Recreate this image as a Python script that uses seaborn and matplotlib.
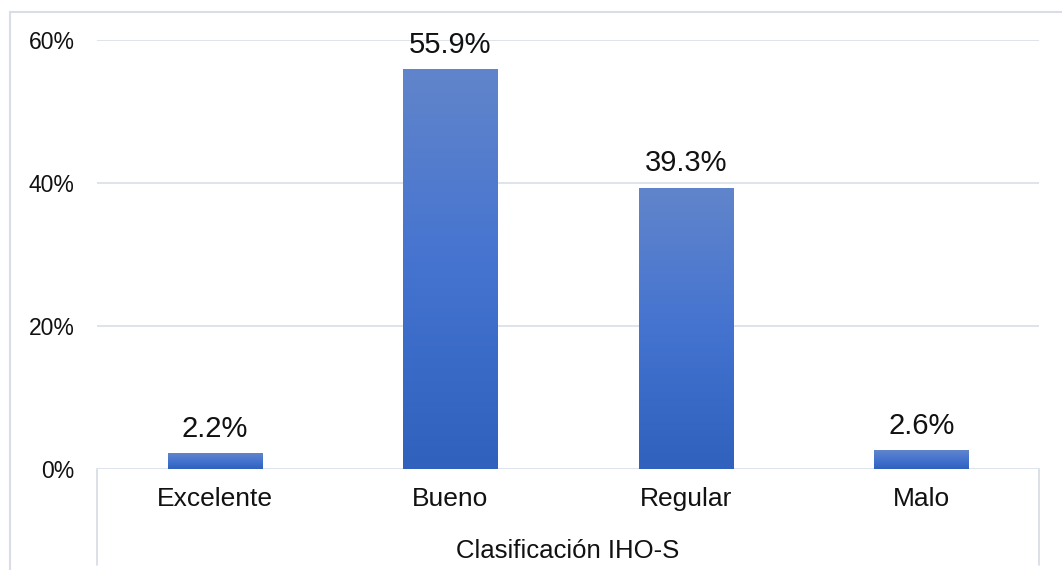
import numpy as np
import pandas as pd
import matplotlib
matplotlib.use("Agg")
import matplotlib.pyplot as plt
import seaborn as sns
from matplotlib.colors import LinearSegmentedColormap
from matplotlib.lines import Line2D

# Distribution of the IHO-S oral hygiene classification
categories = ["Excelente", "Bueno", "Regular", "Malo"]
percentages = [2.2, 55.9, 39.3, 2.6]
y_ticks = [0, 20, 40, 60]
y_tick_labels = ["0%", "20%", "40%", "60%"]
x_title = "Clasificación IHO-S"

sns.set_theme(style="white")
plt.rcParams["font.family"] = ["Liberation Sans", "DejaVu Sans"]

W, H = 1062, 570
fig = plt.figure(figsize=(W / 100, H / 100), dpi=100)
fig.patch.set_facecolor("white")
ax = fig.add_axes([97 / W, 1 - 469 / H, (1039 - 97) / W, (469 - 40) / H])

df = pd.DataFrame({"cat": categories, "pct": percentages})
sns.barplot(data=df, x="cat", y="pct", ax=ax, width=0.40,
            color="#4473D0", saturation=1, edgecolor="none")

# vertical gradient fill for each bar (lighter at the top)
grad_cmap = LinearSegmentedColormap.from_list(
    "bar_grad", ["#2F61BD", "#4473D0", "#6185CB"])
grad = np.linspace(0, 1, 256).reshape(-1, 1)
for patch in ax.patches:
    x0, y0 = patch.get_x(), patch.get_y()
    w, h = patch.get_width(), patch.get_height()
    im = ax.imshow(grad, cmap=grad_cmap, origin="lower", aspect="auto",
                   extent=[x0, x0 + w, y0, y0 + h], zorder=patch.get_zorder() + 0.1,
                   interpolation="bilinear")
    im.set_clip_path(patch)

ax.set_xlim(-0.5, len(categories) - 0.5)
ax.set_ylim(0, 60)

grid_color = "#DCE1E9"
ax.set_yticks(y_ticks)
ax.set_yticklabels(y_tick_labels)
ax.yaxis.grid(True, color=grid_color, linewidth=1.3)
ax.xaxis.grid(False)
ax.set_axisbelow(True)
for s in ax.spines.values():
    s.set_visible(False)

text_color = "#111111"
ax.tick_params(axis="y", length=0, pad=16, labelsize=16.5, labelcolor=text_color)
ax.tick_params(axis="x", length=0, pad=13, labelsize=19, labelcolor=text_color)
ax.set_xlabel("")
ax.set_ylabel("")

# value labels above bars
for i, v in enumerate(percentages):
    ax.annotate(f"{v}%", (i, v), xytext=(0, 12), textcoords="offset points",
                ha="center", va="baseline", fontsize=21, color=text_color)

fig.text((97 + 1039) / 2 / W, 1 - 558 / H, x_title, ha="center", va="baseline",
         fontsize=18.5, color=text_color)

# category axis boundary lines and chart frame
frame_color = "#D9DEE6"
for xp in (97, 1039):
    fig.add_artist(Line2D([xp / W, xp / W], [1 - 469 / H, 1 - 565 / H],
                          transform=fig.transFigure, color=frame_color, lw=1.3))
fig.add_artist(Line2D([10 / W, 1], [1 - 12 / H, 1 - 12 / H],
                      transform=fig.transFigure, color=frame_color, lw=1.5))
fig.add_artist(Line2D([10 / W, 10 / W], [0, 1 - 12 / H],
                      transform=fig.transFigure, color=frame_color, lw=1.5))

fig.savefig("out.png", dpi=100)
